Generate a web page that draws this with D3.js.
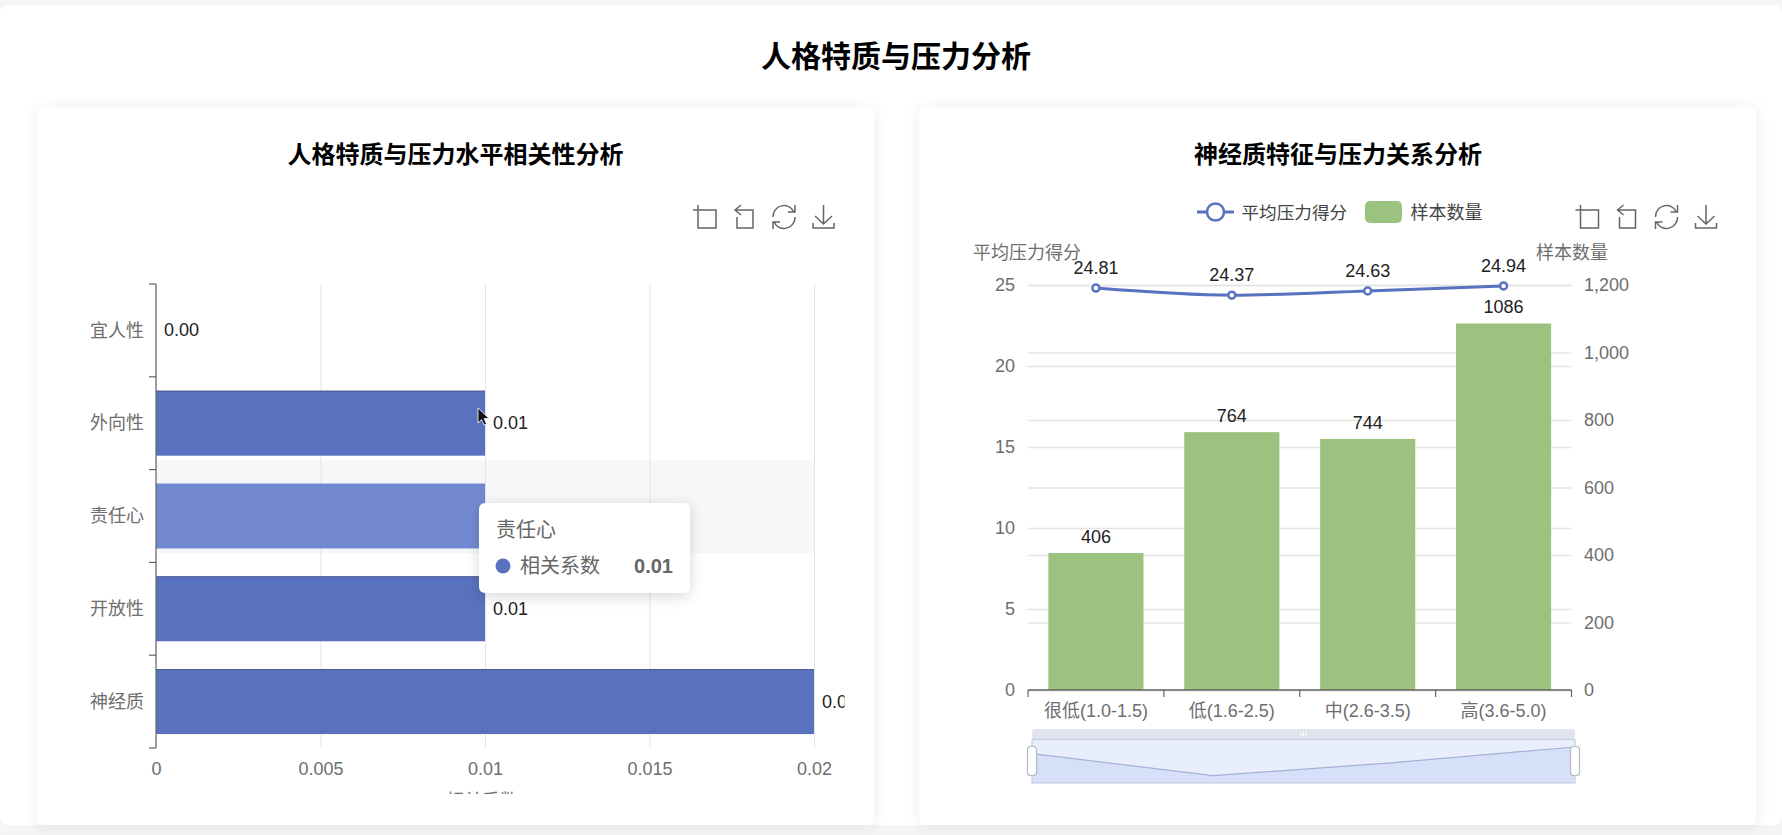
<!DOCTYPE html>
<html>
<head>
<meta charset="utf-8">
<script src="https://cdn.jsdelivr.net/npm/d3@7"></script>
<style>
  html, body { margin: 0; padding: 0; background: #f5f5f5; overflow: hidden; }
  text { font-family: "Liberation Sans", "Noto Sans CJK SC", sans-serif; }
  .tickText { font-size: 18px; fill: #6e6e6e; }
  .valueText { font-size: 18px; fill: #222; }
</style>
</head>
<body>
<div id="chart"></div>
<script>
// Left chart data
var traits = ["宜人性", "外向性", "责任心", "开放性", "神经质"];
var correlations = [0.00, 0.01, 0.01, 0.01, 0.02];
var corrTicks = [0, 0.005, 0.01, 0.015, 0.02];

// Right chart data
var levels = ["很低(1.0-1.5)", "低(1.6-2.5)", "中(2.6-3.5)", "高(3.6-5.0)"];
var avgStress = [24.81, 24.37, 24.63, 24.94];
var sampleCounts = [406, 764, 744, 1086];
var stressTicks = [0, 5, 10, 15, 20, 25];
var countTicks = [0, 200, 400, 600, 800, 1000, 1200];

var blue = "#5872c0";
var blueHover = "#7289d1";
var green = "#9cc280";
var axisGrey = "#666";
var gridGrey = "#e4e4e6";

var svg = d3.select("#chart")
  .append("svg")
  .attr("width", 1782)
  .attr("height", 835)
  .style("display", "block");

var defs = svg.append("defs");

// soft shadows for the cards and the tooltip
var cardShadow = defs.append("filter").attr("id", "cardShadow")
  .attr("x", "-5%").attr("y", "-5%").attr("width", "110%").attr("height", "110%");
cardShadow.append("feDropShadow")
  .attr("dx", 0).attr("dy", 2).attr("stdDeviation", 8)
  .attr("flood-color", "#000").attr("flood-opacity", 0.08);

var tipShadow = defs.append("filter").attr("id", "tipShadow")
  .attr("x", "-20%").attr("y", "-20%").attr("width", "140%").attr("height", "150%");
tipShadow.append("feDropShadow")
  .attr("dx", 0).attr("dy", 3).attr("stdDeviation", 7)
  .attr("flood-color", "#000").attr("flood-opacity", 0.16);

// the left canvas cuts off whatever runs past its edge
defs.append("clipPath").attr("id", "leftClip")
  .append("rect").attr("x", 40).attr("y", 180).attr("width", 804.5).attr("height", 614);

// page panel
svg.append("rect").attr("x", 0).attr("y", 5).attr("width", 1782).attr("height", 820)
  .attr("rx", 8).attr("fill", "#fff");

// page title
svg.append("text")
  .attr("x", 896).attr("y", 56)
  .attr("text-anchor", "middle").attr("dominant-baseline", "central")
  .attr("font-size", 30).attr("font-weight", 700).attr("fill", "#000")
  .text("人格特质与压力分析");

// cards
[[37.5, 836.5], [919.5, 836.5]].forEach(function(c) {
  svg.append("rect")
    .attr("x", c[0]).attr("y", 107).attr("width", c[1]).attr("height", 718)
    .attr("rx", 6).attr("fill", "#fff").attr("filter", "url(#cardShadow)");
});

function cardTitle(x, label) {
  svg.append("text")
    .attr("x", x).attr("y", 154)
    .attr("text-anchor", "middle").attr("dominant-baseline", "central")
    .attr("font-size", 24).attr("font-weight", 700).attr("fill", "#000")
    .text(label);
}
cardTitle(455.5, "人格特质与压力水平相关性分析");
cardTitle(1338, "神经质特征与压力关系分析");

// toolbox icons
function drawToolbox(x) {
  var g = svg.append("g")
    .attr("transform", `translate(${x}, 205)`)
    .attr("fill", "none").attr("stroke", "#666").attr("stroke-width", 1.5);
  g.append("path").attr("d", "M0 5H23V23H5V0");
  g.append("path").attr("d", "M48 0L42 5L48 10M42 5H60V23H44V12");
  g.append("path").attr("d", "M80 12A11 11 0 0 1 101 7M102 0V7H95M102 12A11 11 0 0 1 81 17M80 24V17H87");
  g.append("path").attr("d", "M130.5 0V19M122 11L130.5 19L139 11M120 18V23H141V18");
}
drawToolbox(693);
drawToolbox(1575.5);

// ---------- left chart: correlation bars ----------
var leftPlot = { left: 156, right: 814, top: 284, bottom: 748 };

var leftGroup = svg.append("g").attr("clip-path", "url(#leftClip)");

var corrScale = d3.scaleLinear()
  .domain([0, 0.02])
  .range([leftPlot.left, leftPlot.right]);

var traitScale = d3.scaleBand()
  .domain(traits)
  .range([leftPlot.top, leftPlot.bottom])
  .paddingInner(0.3)
  .paddingOuter(0.15);

var hovered = "责任心";

// hover band, it sits a little above the hovered bar in the screenshot
leftGroup.append("rect")
  .attr("x", leftPlot.left)
  .attr("y", traitScale(hovered) - traitScale.step() * 0.25)
  .attr("width", leftPlot.right - leftPlot.left)
  .attr("height", traitScale.step())
  .attr("fill", "#f6f7f9");

// value axis: grid lines and labels, no axis line
var corrAxis = d3.axisBottom(corrScale)
  .tickValues(corrTicks)
  .tickSize(leftPlot.top - leftPlot.bottom)
  .tickPadding(0)
  .tickFormat(d => d);

var corrAxisGroup = leftGroup.append("g")
  .attr("transform", `translate(0, ${leftPlot.bottom})`)
  .call(corrAxis);
corrAxisGroup.select(".domain").remove();
corrAxisGroup.selectAll("line").attr("stroke", gridGrey);
corrAxisGroup.selectAll("text")
  .attr("class", "tickText")
  .attr("y", 21).attr("dy", "0.35em");

// bars
leftGroup.selectAll(".corrBar")
  .data(traits)
  .enter()
  .append("rect")
  .attr("class", "corrBar")
  .attr("x", leftPlot.left)
  .attr("y", d => traitScale(d))
  .attr("width", (d, i) => corrScale(correlations[i]) - leftPlot.left)
  .attr("height", traitScale.bandwidth())
  .attr("fill", d => d === hovered ? blueHover : blue);

// darker top edge on the bars that are not hovered
leftGroup.selectAll(".corrEdge")
  .data(traits.filter(d => d !== hovered))
  .enter()
  .append("line")
  .attr("class", "corrEdge")
  .attr("x1", leftPlot.left)
  .attr("x2", d => corrScale(correlations[traits.indexOf(d)]))
  .attr("y1", d => traitScale(d) + 0.5)
  .attr("y2", d => traitScale(d) + 0.5)
  .attr("stroke", "#4c5c90");

// category axis, ticks sit on the band boundaries
var traitAxis = d3.axisLeft(traitScale).tickSize(0).tickPadding(12);
var traitAxisGroup = leftGroup.append("g")
  .attr("transform", `translate(${leftPlot.left}, 0.5)`)
  .call(traitAxis);
traitAxisGroup.select(".domain").remove();
traitAxisGroup.selectAll("text").attr("class", "tickText");

leftGroup.append("line")
  .attr("x1", leftPlot.left).attr("x2", leftPlot.left)
  .attr("y1", leftPlot.top).attr("y2", leftPlot.bottom)
  .attr("stroke", axisGrey).attr("stroke-width", 1.2);

d3.range(traits.length + 1).forEach(function(i) {
  var y = leftPlot.top + i * traitScale.step();
  leftGroup.append("line")
    .attr("x1", leftPlot.left - 7).attr("x2", leftPlot.left)
    .attr("y1", y).attr("y2", y)
    .attr("stroke", axisGrey).attr("stroke-width", 1.2);
});

// bar labels, the hovered one is covered by the tooltip
leftGroup.selectAll(".corrLabel")
  .data(traits.filter(d => d !== hovered))
  .enter()
  .append("text")
  .attr("class", "corrLabel valueText")
  .attr("x", d => corrScale(correlations[traits.indexOf(d)]) + 8)
  .attr("y", d => traitScale(d) + traitScale.bandwidth() / 2)
  .attr("dominant-baseline", "central")
  .text(d => correlations[traits.indexOf(d)].toFixed(2));

// axis name, only its top edge survives the clip
leftGroup.append("text")
  .attr("class", "tickText")
  .attr("x", 482).attr("y", 801)
  .attr("text-anchor", "middle").attr("dominant-baseline", "central")
  .text("相关系数");

// tooltip
var tip = svg.append("g").attr("transform", "translate(479, 503)");
tip.append("rect")
  .attr("width", 211).attr("height", 90).attr("rx", 6)
  .attr("fill", "#fff").attr("filter", "url(#tipShadow)");
tip.append("text")
  .attr("x", 17).attr("y", 27)
  .attr("dominant-baseline", "central")
  .attr("font-size", 20).attr("fill", "#666")
  .text(hovered);
tip.append("circle")
  .attr("cx", 24).attr("cy", 63).attr("r", 7.5).attr("fill", blue);
tip.append("text")
  .attr("x", 41).attr("y", 63)
  .attr("dominant-baseline", "central")
  .attr("font-size", 20).attr("fill", "#666")
  .text("相关系数");
tip.append("text")
  .attr("x", 194).attr("y", 63)
  .attr("text-anchor", "end").attr("dominant-baseline", "central")
  .attr("font-size", 20).attr("font-weight", 700).attr("fill", "#666")
  .text(correlations[traits.indexOf(hovered)].toFixed(2));

// mouse pointer caught in the screenshot
svg.append("path")
  .attr("transform", "translate(478, 408)")
  .attr("d", "M0 0V15L3.5 11.5L6 17L8.5 16L6 10.5H11Z")
  .attr("fill", "#111").attr("stroke", "#fff").attr("stroke-width", 0.8);

// ---------- right chart: stress line and sample bars ----------
var rightPlot = { left: 1028, right: 1571.5, top: 285, bottom: 690 };

var levelScale = d3.scaleBand()
  .domain(levels)
  .range([rightPlot.left, rightPlot.right])
  .paddingInner(0.3)
  .paddingOuter(0.15);

var stressScale = d3.scaleLinear()
  .domain([0, 25])
  .range([rightPlot.bottom, rightPlot.top]);

var countScale = d3.scaleLinear()
  .domain([0, 1200])
  .range([rightPlot.bottom, rightPlot.top]);

var plotWidth = rightPlot.right - rightPlot.left;

// left value axis with its grid lines
var stressAxisGroup = svg.append("g")
  .attr("transform", `translate(${rightPlot.left}, 0)`)
  .call(d3.axisLeft(stressScale).tickValues(stressTicks).tickSize(-plotWidth).tickPadding(13));
stressAxisGroup.select(".domain").remove();
stressAxisGroup.selectAll("line").attr("stroke", gridGrey).attr("stroke-width", 1.4);
stressAxisGroup.selectAll("text").attr("class", "tickText");

// right value axis with its grid lines
var countAxisGroup = svg.append("g")
  .attr("transform", `translate(${rightPlot.right}, 0)`)
  .call(d3.axisRight(countScale).tickValues(countTicks).tickSize(-plotWidth)
    .tickPadding(12).tickFormat(d3.format(",")));
countAxisGroup.select(".domain").remove();
countAxisGroup.selectAll("line").attr("stroke", gridGrey).attr("stroke-width", 1.4);
countAxisGroup.selectAll("text").attr("class", "tickText");
// tick text sits outside the plot, grid lines run back across it
countAxisGroup.selectAll("text").attr("x", 12.5);

// sample bars
svg.selectAll(".countBar")
  .data(levels)
  .enter()
  .append("rect")
  .attr("class", "countBar")
  .attr("x", d => levelScale(d))
  .attr("y", (d, i) => countScale(sampleCounts[i]))
  .attr("width", levelScale.bandwidth())
  .attr("height", (d, i) => rightPlot.bottom - countScale(sampleCounts[i]))
  .attr("fill", green);

svg.selectAll(".countLabel")
  .data(levels)
  .enter()
  .append("text")
  .attr("class", "countLabel valueText")
  .attr("x", d => levelScale(d) + levelScale.bandwidth() / 2)
  .attr("y", (d, i) => countScale(sampleCounts[i]) - 16)
  .attr("text-anchor", "middle").attr("dominant-baseline", "central")
  .text((d, i) => sampleCounts[i]);

// category axis, ticks on the band boundaries
var levelAxisGroup = svg.append("g")
  .attr("transform", `translate(0, ${rightPlot.bottom})`)
  .call(d3.axisBottom(levelScale).tickSize(0).tickPadding(0));
levelAxisGroup.select(".domain").remove();
levelAxisGroup.selectAll("text")
  .attr("class", "tickText")
  .attr("y", 21).attr("dy", "0.35em");

svg.append("line")
  .attr("x1", rightPlot.left).attr("x2", rightPlot.right)
  .attr("y1", rightPlot.bottom).attr("y2", rightPlot.bottom)
  .attr("stroke", axisGrey).attr("stroke-width", 1.4);

d3.range(levels.length + 1).forEach(function(i) {
  var x = rightPlot.left + i * levelScale.step();
  svg.append("line")
    .attr("x1", x).attr("x2", x)
    .attr("y1", rightPlot.bottom).attr("y2", rightPlot.bottom + 7)
    .attr("stroke", axisGrey).attr("stroke-width", 1.2);
});

// stress line
var stressLine = d3.line()
  .x(d => levelScale(d) + levelScale.bandwidth() / 2)
  .y((d, i) => stressScale(avgStress[i]))
  .curve(d3.curveMonotoneX);

svg.append("path")
  .attr("d", stressLine(levels))
  .attr("fill", "none")
  .attr("stroke", blue)
  .attr("stroke-width", 3);

svg.selectAll(".stressPoint")
  .data(levels)
  .enter()
  .append("circle")
  .attr("class", "stressPoint")
  .attr("cx", d => levelScale(d) + levelScale.bandwidth() / 2)
  .attr("cy", (d, i) => stressScale(avgStress[i]))
  .attr("r", 3.5)
  .attr("fill", "#fff")
  .attr("stroke", blue)
  .attr("stroke-width", 2.5);

svg.selectAll(".stressLabel")
  .data(levels)
  .enter()
  .append("text")
  .attr("class", "stressLabel valueText")
  .attr("x", d => levelScale(d) + levelScale.bandwidth() / 2)
  .attr("y", (d, i) => stressScale(avgStress[i]) - 20)
  .attr("text-anchor", "middle").attr("dominant-baseline", "central")
  .text((d, i) => avgStress[i].toFixed(2));

// axis names
function axisName(x, label) {
  svg.append("text")
    .attr("class", "tickText")
    .attr("x", x).attr("y", 253)
    .attr("text-anchor", "middle").attr("dominant-baseline", "central")
    .text(label);
}
axisName(1027, "平均压力得分");
axisName(1572, "样本数量");

// legend
var legend = svg.append("g").attr("transform", "translate(0, 212)");
legend.append("line")
  .attr("x1", 1197).attr("x2", 1234)
  .attr("stroke", blue).attr("stroke-width", 3);
legend.append("circle")
  .attr("cx", 1215.5).attr("r", 8.5)
  .attr("fill", "#fff").attr("stroke", blue).attr("stroke-width", 2.5);
legend.append("text")
  .attr("x", 1241.5).attr("y", 1).attr("dominant-baseline", "central")
  .attr("font-size", 17.6).attr("fill", "#444")
  .text("平均压力得分");
legend.append("rect")
  .attr("x", 1365).attr("y", -11).attr("width", 37).attr("height", 22).attr("rx", 5)
  .attr("fill", green);
legend.append("text")
  .attr("x", 1410.5).attr("y", 1).attr("dominant-baseline", "central")
  .attr("font-size", 18).attr("fill", "#444")
  .text("样本数量");

// ---------- data zoom slider ----------
var zoomBox = { left: 1032, right: 1575, barTop: 729, top: 739.5, bottom: 783 };

svg.append("rect")
  .attr("x", zoomBox.left).attr("y", zoomBox.barTop)
  .attr("width", zoomBox.right - zoomBox.left).attr("height", zoomBox.top - zoomBox.barTop)
  .attr("rx", 3).attr("fill", "#e1e4ec");

svg.append("rect")
  .attr("x", zoomBox.left).attr("y", zoomBox.top)
  .attr("width", zoomBox.right - zoomBox.left).attr("height", zoomBox.bottom - zoomBox.top)
  .attr("fill", "#e8eefb");

// grip marks on the top bar
[-2.5, 0, 2.5].forEach(function(dx) {
  svg.append("line")
    .attr("x1", 1303.5 + dx).attr("x2", 1303.5 + dx)
    .attr("y1", 731.5).attr("y2", 736.5)
    .attr("stroke", "#fff").attr("stroke-width", 1);
});

var shadowX = d3.scalePoint()
  .domain(levels)
  .range([zoomBox.left, zoomBox.right]);

var shadowY = d3.scaleLinear()
  .domain(d3.extent(avgStress))
  .range([775.7, 747]);

var shadowArea = d3.area()
  .x(d => shadowX(d))
  .y0(zoomBox.bottom)
  .y1((d, i) => shadowY(avgStress[i]));

var shadowLine = d3.line()
  .x(d => shadowX(d))
  .y((d, i) => shadowY(avgStress[i]));

svg.append("path").attr("d", shadowArea(levels)).attr("fill", "#d6e0f9");
svg.append("path").attr("d", shadowLine(levels))
  .attr("fill", "none").attr("stroke", "#a5b1d6").attr("stroke-width", 1.2);

svg.append("rect")
  .attr("x", zoomBox.left).attr("y", zoomBox.top)
  .attr("width", zoomBox.right - zoomBox.left).attr("height", zoomBox.bottom - zoomBox.top)
  .attr("fill", "none").attr("stroke", "#c6cde2").attr("stroke-width", 1.2);

[zoomBox.left, zoomBox.right].forEach(function(x) {
  svg.append("rect")
    .attr("x", x - 4.5).attr("y", 746.5)
    .attr("width", 9).attr("height", 29).attr("rx", 3)
    .attr("fill", "#fff").attr("stroke", "#b4b8c4").attr("stroke-width", 1.2);
});
</script>
</body>
</html>
